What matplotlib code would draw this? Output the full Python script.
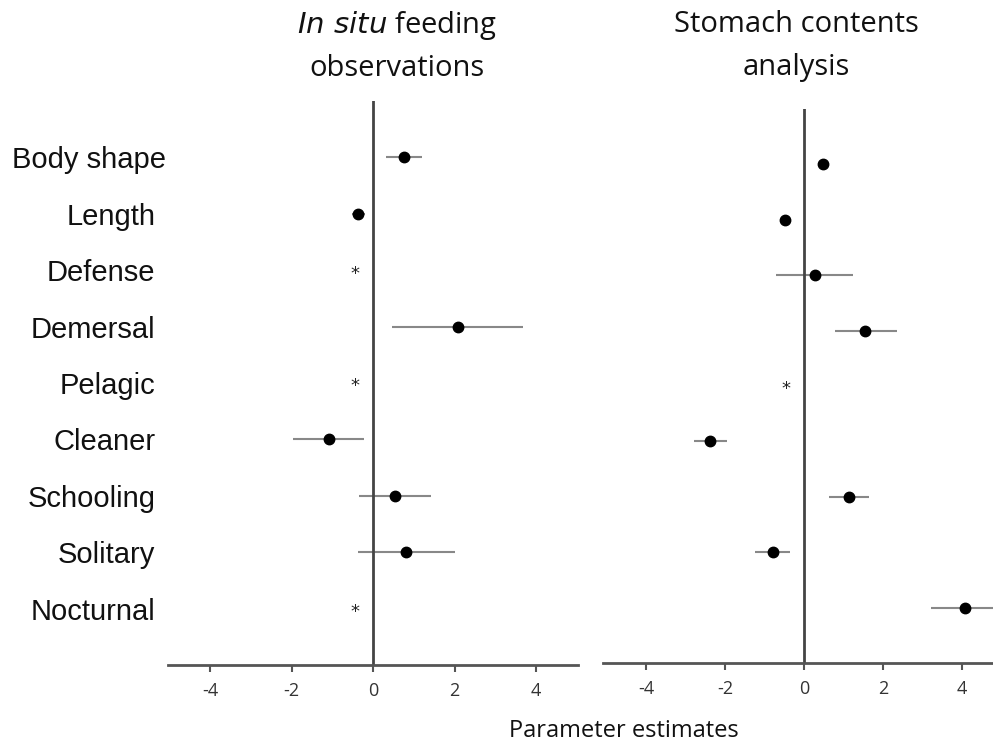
import numpy as np
import matplotlib
matplotlib.use("Agg")
import matplotlib.pyplot as plt
import matplotlib.transforms as mtransforms

# Predictors (top to bottom)
variaveis = ["Body shape", "Length", "Defense", "Demersal", "Pelagic",
             "Cleaner", "Schooling", "Solitary", "Nocturnal"]

# In situ feeding observations (None = not estimable, shown as *)
insitu_est = [0.75, -0.38, None, 2.08, None, -1.09, 0.53, 0.81, None]
insitu_low = [0.31, -0.53, None, 0.47, None, -1.97, -0.36, -0.37, None]
insitu_high = [1.20, -0.20, None, 3.68, None, -0.22, 1.41, 2.00, None]

# Stomach contents analysis
stomach_est = [0.47, -0.48, 0.27, 1.56, None, -2.38, 1.14, -0.79, 4.09]
stomach_low = [0.47, -0.48, -0.71, 0.79, None, -2.78, 0.64, -1.25, 3.22]
stomach_high = [0.47, -0.48, 1.24, 2.35, None, -1.95, 1.66, -0.36, 5.20]

xticks = [-4, -2, 0, 2, 4]
STAR_X = -0.45

W, H = 993, 746
fig = plt.figure(figsize=(W / 100, H / 100), dpi=100)


def painel(rect, est, low, high, xlim):
    ax = fig.add_axes(rect)
    y = np.arange(len(variaveis))
    for k in range(len(variaveis)):
        if est[k] is None:
            ax.text(STAR_X, y[k] + 0.06, "*", ha="center", va="center",
                    fontsize=13, color="#222222", family="DejaVu Sans")
            continue
        ax.plot([low[k], high[k]], [y[k], y[k]], color="#888888", lw=1.5,
                solid_capstyle="butt")
        ax.plot(est[k], y[k], "o", color="black", ms=7.5)
    ax.axvline(0, color="#444444", lw=2)
    ax.set_xlim(*xlim)
    ax.set_ylim(9, -1)
    ax.set_xticks(xticks)
    ax.set_xticklabels([str(t) for t in xticks], family="Open Sans",
                       fontsize=13, color="#333333")
    ax.set_yticks([])
    for s in ["top", "right", "left"]:
        ax.spines[s].set_visible(False)
    ax.spines["bottom"].set_color("#555555")
    ax.spines["bottom"].set_linewidth(2)
    ax.tick_params(axis="x", direction="out", length=5, width=1.5,
                   color="#555555", pad=7)
    return ax


def frac_rect(x0, y0, x1, y1):
    return [x0 / W, 1 - y1 / H, (x1 - x0) / W, (y1 - y0) / H]


ax1 = painel(frac_rect(168, 101, 578, 665), insitu_est, insitu_low,
             insitu_high, (-5.04, 5.03))
ax2 = painel(frac_rect(603, 109, 1005, 663), stomach_est, stomach_low,
             stomach_high, (-5.1, 5.1))

# Row labels on the left panel
ax1.set_yticks(np.arange(len(variaveis)))
ax1.set_yticklabels(variaveis, family="Liberation Sans", fontsize=21,
                    color="#111111")
ax1.tick_params(axis="y", length=0, pad=9)
# "Body shape" sits a little further right in the original
rotulo = ax1.get_yticklabels()[0]
rotulo.set_transform(rotulo.get_transform() +
                     mtransforms.ScaledTranslation(0.11, 0, fig.dpi_scale_trans))

# Titles
fig.text(397 / W, 1 - 25 / H, r"$\it{In\ situ}$ feeding", ha="center",
         va="center", fontsize=21, family="Open Sans", color="#111111")
fig.text(397 / W, 1 - 68 / H, "observations", ha="center", va="center",
         fontsize=21, family="Open Sans", color="#111111")
fig.text(796 / W, 1 - 25 / H, "Stomach contents", ha="center", va="center",
         fontsize=21, family="Open Sans", color="#111111")
fig.text(796 / W, 1 - 68 / H, "analysis", ha="center", va="center",
         fontsize=21, family="Open Sans", color="#111111")

fig.text(624 / W, 1 - 731 / H, "Parameter estimates", ha="center",
         va="center", fontsize=17, family="Open Sans", color="#111111")

fig.savefig("out.png", dpi=100)
